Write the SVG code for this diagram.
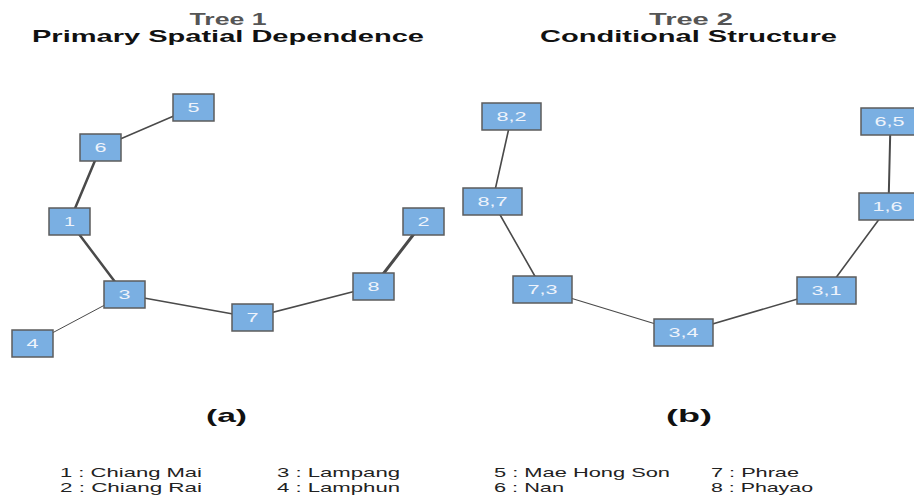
<svg xmlns="http://www.w3.org/2000/svg" width="914" height="495" viewBox="0 0 914 495">
<style>
.bg{fill:#ffffff}
.title1{font-family:"Liberation Sans",Arial,sans-serif;font-weight:bold;font-size:16px;fill:#555555;text-anchor:middle}
.title2{font-family:"Liberation Sans",Arial,sans-serif;font-weight:bold;font-size:17px;fill:#111111;text-anchor:middle}
.cap{font-family:"Liberation Sans",Arial,sans-serif;font-weight:bold;font-size:19px;fill:#111111;text-anchor:middle}
.leg{font-family:"Liberation Sans",Arial,sans-serif;font-size:13px;fill:#222222}
.box{fill:#7aafe2;stroke:#5c5c5c;stroke-width:1.5}
.lbl{font-family:"Liberation Sans",Arial,sans-serif;font-size:13px;fill:#eef3fb;text-anchor:middle}
.e{stroke:#4a4a4a;fill:none;stroke-linecap:round}
</style>
<rect class="bg" x="0" y="0" width="914" height="495"/>
<g id="titles">
<text class="title1" x="228" y="25" textLength="77" lengthAdjust="spacingAndGlyphs">Tree 1</text>
<text class="title2" x="228" y="41.5" textLength="392" lengthAdjust="spacingAndGlyphs">Primary Spatial Dependence</text>
<text class="title1" x="691" y="25" textLength="84" lengthAdjust="spacingAndGlyphs">Tree 2</text>
<text class="title2" x="688.5" y="41.5" textLength="297" lengthAdjust="spacingAndGlyphs">Conditional Structure</text>
</g>
<g id="connectors">
<line class="e" x1="193.5" y1="107.5" x2="100.5" y2="147.5" stroke-width="1.5"/>
<line class="e" x1="100.5" y1="147.5" x2="69.5" y2="221.5" stroke-width="2.5"/>
<line class="e" x1="69.5" y1="221.5" x2="124.5" y2="294.5" stroke-width="2.5"/>
<line class="e" x1="124.5" y1="294.5" x2="32.5" y2="343.5" stroke-width="1"/>
<line class="e" x1="124.5" y1="294.5" x2="252.5" y2="317.5" stroke-width="1.5"/>
<line class="e" x1="252.5" y1="317.5" x2="373.5" y2="286.5" stroke-width="1.5"/>
<line class="e" x1="373.5" y1="286.5" x2="423.5" y2="221.5" stroke-width="3"/>
<line class="e" x1="511.5" y1="116.5" x2="492.5" y2="201.5" stroke-width="1.6"/>
<line class="e" x1="492.5" y1="201.5" x2="542.5" y2="289.5" stroke-width="1.6"/>
<line class="e" x1="542.5" y1="289.5" x2="683.5" y2="332.5" stroke-width="1.2"/>
<line class="e" x1="683.5" y1="332.5" x2="826.5" y2="290.5" stroke-width="1.5"/>
<line class="e" x1="826.5" y1="290.5" x2="888.5" y2="206.5" stroke-width="1.6"/>
<line class="e" x1="888.5" y1="206.5" x2="890.5" y2="121.5" stroke-width="2"/>
</g>
<g id="n5"><rect class="box" x="173" y="94" width="41" height="27"/><text class="lbl" x="193.5" y="112" textLength="12" lengthAdjust="spacingAndGlyphs">5</text></g>
<g id="n6"><rect class="box" x="80" y="134" width="41" height="27"/><text class="lbl" x="100.5" y="152" textLength="12" lengthAdjust="spacingAndGlyphs">6</text></g>
<g id="n1"><rect class="box" x="49" y="208" width="41" height="27"/><text class="lbl" x="69.5" y="226" textLength="11" lengthAdjust="spacingAndGlyphs">1</text></g>
<g id="n3"><rect class="box" x="104" y="281" width="41" height="27"/><text class="lbl" x="124.5" y="299" textLength="12" lengthAdjust="spacingAndGlyphs">3</text></g>
<g id="n4"><rect class="box" x="12" y="330" width="41" height="27"/><text class="lbl" x="32.5" y="348" textLength="12" lengthAdjust="spacingAndGlyphs">4</text></g>
<g id="n7"><rect class="box" x="232" y="304" width="41" height="27"/><text class="lbl" x="252.5" y="322" textLength="12" lengthAdjust="spacingAndGlyphs">7</text></g>
<g id="n8"><rect class="box" x="353" y="273" width="41" height="27"/><text class="lbl" x="373.5" y="291" textLength="12" lengthAdjust="spacingAndGlyphs">8</text></g>
<g id="n2"><rect class="box" x="403" y="208" width="41" height="27"/><text class="lbl" x="423.5" y="226" textLength="12" lengthAdjust="spacingAndGlyphs">2</text></g>
<g id="n82"><rect class="box" x="482" y="103" width="59" height="27"/><text class="lbl" x="511.5" y="121" textLength="30" lengthAdjust="spacingAndGlyphs">8,2</text></g>
<g id="n87"><rect class="box" x="463" y="188" width="59" height="27"/><text class="lbl" x="492.5" y="206" textLength="30" lengthAdjust="spacingAndGlyphs">8,7</text></g>
<g id="n73"><rect class="box" x="513" y="276" width="59" height="27"/><text class="lbl" x="542.5" y="294" textLength="30" lengthAdjust="spacingAndGlyphs">7,3</text></g>
<g id="n34"><rect class="box" x="654" y="319" width="59" height="27"/><text class="lbl" x="683.5" y="337" textLength="30" lengthAdjust="spacingAndGlyphs">3,4</text></g>
<g id="n31"><rect class="box" x="797" y="277" width="59" height="27"/><text class="lbl" x="826.5" y="295" textLength="30" lengthAdjust="spacingAndGlyphs">3,1</text></g>
<g id="n16"><rect class="box" x="859" y="193" width="59" height="27"/><text class="lbl" x="887.5" y="211" textLength="30" lengthAdjust="spacingAndGlyphs">1,6</text></g>
<g id="n65"><rect class="box" x="861" y="108" width="59" height="27"/><text class="lbl" x="889.5" y="126" textLength="30" lengthAdjust="spacingAndGlyphs">6,5</text></g>
<g id="captions">
<text class="cap" x="226.5" y="422" textLength="41" lengthAdjust="spacingAndGlyphs">(a)</text>
<text class="cap" x="689" y="422" textLength="46" lengthAdjust="spacingAndGlyphs">(b)</text>
</g>
<g id="legend">
<text class="leg" x="60" y="477" textLength="142" lengthAdjust="spacingAndGlyphs">1 : Chiang Mai</text>
<text class="leg" x="60" y="492" textLength="142" lengthAdjust="spacingAndGlyphs">2 : Chiang Rai</text>
<text class="leg" x="277" y="477" textLength="123" lengthAdjust="spacingAndGlyphs">3 : Lampang</text>
<text class="leg" x="277" y="492" textLength="123" lengthAdjust="spacingAndGlyphs">4 : Lamphun</text>
<text class="leg" x="494" y="477" textLength="176" lengthAdjust="spacingAndGlyphs">5 : Mae Hong Son</text>
<text class="leg" x="494" y="492" textLength="70" lengthAdjust="spacingAndGlyphs">6 : Nan</text>
<text class="leg" x="711" y="477" textLength="88" lengthAdjust="spacingAndGlyphs">7 : Phrae</text>
<text class="leg" x="711" y="492" textLength="102" lengthAdjust="spacingAndGlyphs">8 : Phayao</text>
</g>
</svg>
